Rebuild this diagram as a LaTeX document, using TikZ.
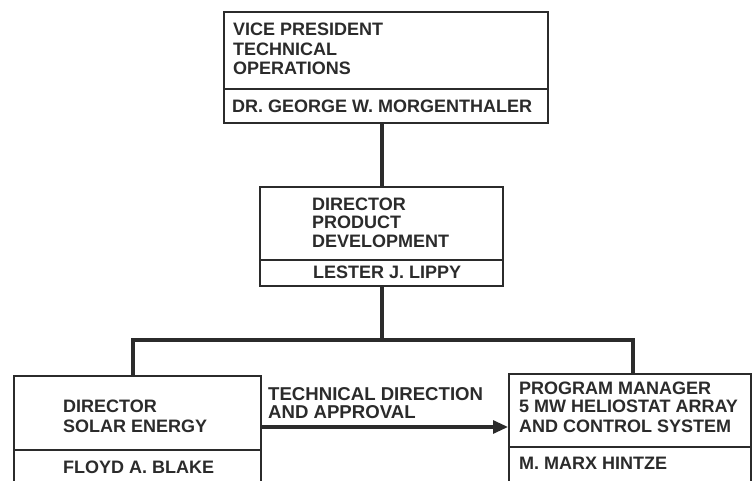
\documentclass[tikz,border=0pt]{standalone}
\usepackage{fontspec}
\setmainfont{Liberation Sans}
\usetikzlibrary{arrows.meta}
\definecolor{ink}{gray}{0.17}
\begin{document}
\begin{tikzpicture}[x=1pt,y=-1pt,
  box/.style={draw=ink, line width=1.8pt, anchor=north west, inner sep=0pt},
  divider/.style={draw=ink, line width=1.6pt},
  txt/.style={anchor=base west, inner sep=0pt, text=ink, font=\bfseries\fontsize{18}{19.5}\selectfont},
  lbl/.style={txt, font=\bfseries\fontsize{18.6}{19.5}\selectfont},
  conn/.style={draw=ink, line width=3.4pt, line join=miter, line cap=rect},
  arr/.style={draw=ink, line width=3pt, -{Triangle[length=15pt,width=13pt]}}]
\useasboundingbox (0,0) rectangle (756,481);
\clip (0,0) rectangle (756,481);
\fill[white] (0,0) rectangle (756,481);

% boxes
\node[box, minimum width=324pt, minimum height=111pt] (vp) at (223,11) {};
\node[box, minimum width=243pt, minimum height=99pt] (pd) at (259,186) {};
\node[box, minimum width=247pt, minimum height=120pt] (sd) at (13,375) {};
\node[box, minimum width=242pt, minimum height=120pt] (pm) at (508,373) {};

% dividers
\draw[divider] (vp.west |- 0,89) -- (vp.east |- 0,89);
\draw[divider] (pd.west |- 0,260) -- (pd.east |- 0,260);
\draw[divider] (sd.west |- 0,450) -- (sd.east |- 0,450);
\draw[divider] (pm.west |- 0,447) -- (pm.east |- 0,447);

% texts
\node[txt] (t1) at (233,36) {VICE PRESIDENT};
\node[txt] (t2) at (233,56) {TECHNICAL};
\node[txt] (t3) at (233,75) {OPERATIONS};
\node[txt] (t4) at (232,113) {DR. GEORGE W. MORGENTHALER};

\node[txt] (t5) at (312,211) {DIRECTOR};
\node[txt] (t6) at (312,229) {PRODUCT};
\node[txt] (t7) at (312,248) {DEVELOPMENT};
\node[txt] (t8) at (313,279) {LESTER J. LIPPY};

\node[txt] (t9) at (63,413) {DIRECTOR};
\node[txt] (t10) at (63,432) {SOLAR ENERGY};
\node[txt] (t11) at (63,473) {FLOYD A. BLAKE};

\node[txt] (t12) at (519,395) {PROGRAM MANAGER};
\node[txt] (t13) at (519,413) {5 MW HELIOSTAT ARRAY};
\node[txt] (t14) at (519,432) {AND CONTROL SYSTEM};
\node[txt] (t15) at (519,469) {M. MARX HINTZE};

\node[lbl] (l1) at (268,401) {TECHNICAL DIRECTION};
\node[lbl] (l2) at (268,419) {AND APPROVAL};

% connectors
\coordinate (spine) at (382,0);
\coordinate (bus) at (0,340);
\coordinate (lx) at (133,0);
\coordinate (rx) at (633,0);
\coordinate (ay) at (0,427);
\draw[conn] (vp.south -| spine) -- (pd.north -| spine);
\draw[conn] (pd.south -| spine) -- (bus -| spine);
\draw[conn] (sd.north -| lx) -- (bus -| lx) -- (bus -| rx) -- (pm.north -| rx);
\draw[arr] (sd.east |- ay) -- (pm.west |- ay);
\end{tikzpicture}
\end{document}
